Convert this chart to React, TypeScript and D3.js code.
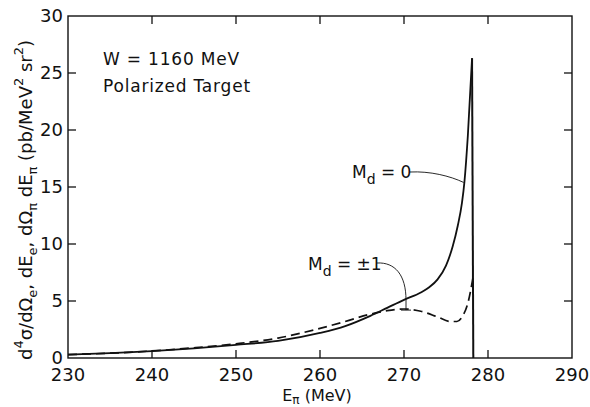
import { useEffect, useRef } from 'react';
import * as d3 from 'd3';

// M_d = 0 (solid) and M_d = ±1 (dashed)
const energySolid = [230, 235, 240, 245, 250, 255, 260, 263, 266, 268, 270, 272, 273, 274, 275, 275.8, 276.4, 276.9, 277.2, 277.6, 278.1];
const valueSolid = [0.3, 0.42, 0.6, 0.85, 1.15, 1.5, 2.2, 2.8, 3.7, 4.4, 5.1, 5.75, 6.2, 6.9, 8.1, 9.8, 11.6, 13.6, 15.5, 19.5, 26.3];
const energyDashed = [230, 235, 240, 245, 250, 255, 260, 263, 266, 268, 270, 272, 274, 275.5, 276.3, 277, 277.6, 278.2];
const valueDashed = [0.3, 0.42, 0.62, 0.9, 1.25, 1.75, 2.6, 3.2, 3.85, 4.15, 4.3, 4.1, 3.6, 3.2, 3.2, 3.7, 4.8, 7.0];
const cutoffEnergy = 278.25;

const xTicks = [230, 240, 250, 260, 270, 280, 290];
const yTicks = [0, 5, 10, 15, 20, 25, 30];

const FONT = '"DejaVu Sans", "Liberation Sans", sans-serif';

const App = () => {
  const svgRef = useRef<SVGSVGElement>(null);

  useEffect(() => {
    const svg = d3.select(svgRef.current);
    svg.selectAll('*').remove();

    const margin = { top: 16, right: 18, bottom: 49, left: 68 };
    const W = 590;
    const H = 407;
    const x = d3.scaleLinear().domain([230, 290]).range([margin.left, W - margin.right]);
    const y = d3.scaleLinear().domain([0, 30]).range([H - margin.bottom, margin.top]);

    const g = svg.append('g').attr('font-family', FONT).attr('fill', '#111');

    // frame
    g.append('rect')
      .attr('x', x(230)).attr('y', y(30))
      .attr('width', x(290) - x(230)).attr('height', y(0) - y(30))
      .attr('fill', 'none').attr('stroke', '#111').attr('stroke-width', 1.4);

    const tl = 8;
    // inward ticks on all four sides
    xTicks.slice(1, -1).forEach((t) => {
      g.append('line').attr('x1', x(t)).attr('x2', x(t)).attr('y1', y(0)).attr('y2', y(0) - tl)
        .attr('stroke', '#111').attr('stroke-width', 1.3);
      g.append('line').attr('x1', x(t)).attr('x2', x(t)).attr('y1', y(30)).attr('y2', y(30) + tl)
        .attr('stroke', '#111').attr('stroke-width', 1.3);
    });
    yTicks.slice(1, -1).forEach((t) => {
      g.append('line').attr('x1', x(230)).attr('x2', x(230) + tl).attr('y1', y(t)).attr('y2', y(t))
        .attr('stroke', '#111').attr('stroke-width', 1.3);
      g.append('line').attr('x1', x(290)).attr('x2', x(290) - tl).attr('y1', y(t)).attr('y2', y(t))
        .attr('stroke', '#111').attr('stroke-width', 1.3);
    });

    // tick labels
    g.selectAll('.xl').data(xTicks).enter().append('text')
      .attr('x', (d) => x(d)).attr('y', y(0) + 23)
      .attr('text-anchor', 'middle').attr('font-size', 18)
      .text((d) => d);
    g.selectAll('.yl').data(yTicks).enter().append('text')
      .attr('x', x(230) - 5).attr('y', (d) => y(d) + 6)
      .attr('text-anchor', 'end').attr('font-size', 18)
      .text((d) => d);

    // x title
    const xt = g.append('text').attr('x', 317).attr('y', 401).attr('text-anchor', 'middle').attr('font-size', 16);
    xt.append('tspan').text('E');
    xt.append('tspan').attr('dy', 3).attr('font-size', 12).text('π');
    xt.append('tspan').attr('dy', -3).text(' (MeV)');

    // y title
    const yt = g.append('text')
      .attr('transform', `translate(32, 200) rotate(-90)`)
      .attr('text-anchor', 'middle').attr('font-size', 18);
    const parts: [string, string][] = [
      ['d', 'n'], ['4', 'sup'], ['σ/dΩ', 'n'], ['e', 'sub'], [', dE', 'n'], ['e', 'sub'],
      [', dΩ', 'n'], ['π', 'sub'], [' dE', 'n'], ['π', 'sub'], [' (pb/MeV', 'n'], ['2', 'sup'],
      [' sr', 'n'], ['2', 'sup'], [')', 'n'],
    ];
    let shift = 0;
    parts.forEach(([s, k]) => {
      const target = k === 'sup' ? -9 : k === 'sub' ? 5 : 0;
      yt.append('tspan').attr('dy', target - shift)
        .attr('font-size', k === 'n' ? 18 : 13).text(s);
      shift = target;
    });

    // curves
    const solid = energySolid.map((e, i) => [e, valueSolid[i]] as [number, number]);
    const dashed = energyDashed.map((e, i) => [e, valueDashed[i]] as [number, number]);
    const line = d3.line<[number, number]>().x((d) => x(d[0])).y((d) => y(d[1])).curve(d3.curveMonotoneX);

    g.append('path').attr('d', line(dashed)).attr('fill', 'none').attr('stroke', '#111')
      .attr('stroke-width', 1.7).attr('stroke-dasharray', '9,5');
    g.append('path').attr('d', line(solid)).attr('fill', 'none').attr('stroke', '#111')
      .attr('stroke-width', 1.8);
    const peak = solid[solid.length - 1];
    g.append('line')
      .attr('x1', x(peak[0])).attr('y1', y(peak[1]))
      .attr('x2', x(cutoffEnergy)).attr('y2', y(0))
      .attr('stroke', '#111').attr('stroke-width', 2);

    // annotations
    g.append('text').attr('x', 103).attr('y', 65).attr('font-size', 17).attr('letter-spacing', 0.8).text('W = 1160 MeV');
    g.append('text').attr('x', 103).attr('y', 92).attr('font-size', 17).attr('letter-spacing', 0.8).text('Polarized  Target');

    const m0 = g.append('text').attr('x', 352).attr('y', 178).attr('font-size', 17);
    m0.append('tspan').text('M');
    m0.append('tspan').attr('dy', 6).attr('font-size', 14).text('d');
    m0.append('tspan').attr('dy', -6).text(' = 0');

    const m1 = g.append('text').attr('x', 308).attr('y', 270).attr('font-size', 17);
    m1.append('tspan').text('M');
    m1.append('tspan').attr('dy', 6).attr('font-size', 14).text('d');
    m1.append('tspan').attr('dy', -6).text(' = ±1');

    g.append('path')
      .attr('d', `M410,172 C430,171 450,176 ${x(277.1)},${y(15.4)}`)
      .attr('fill', 'none').attr('stroke', '#111').attr('stroke-width', 0.9);
    g.append('path')
      .attr('d', `M377,263 C395,262 406,275 406,300 L406,${y(4.2)} M401,${y(4.2)} L411,${y(4.2)}`)
      .attr('fill', 'none').attr('stroke', '#111').attr('stroke-width', 0.9);
  }, []);

  return (
    <svg ref={svgRef} width={590} height={407}
      style={{ display: 'block', position: 'fixed', left: 0, top: 0, background: '#fff' }} />
  );
};

export default App;
